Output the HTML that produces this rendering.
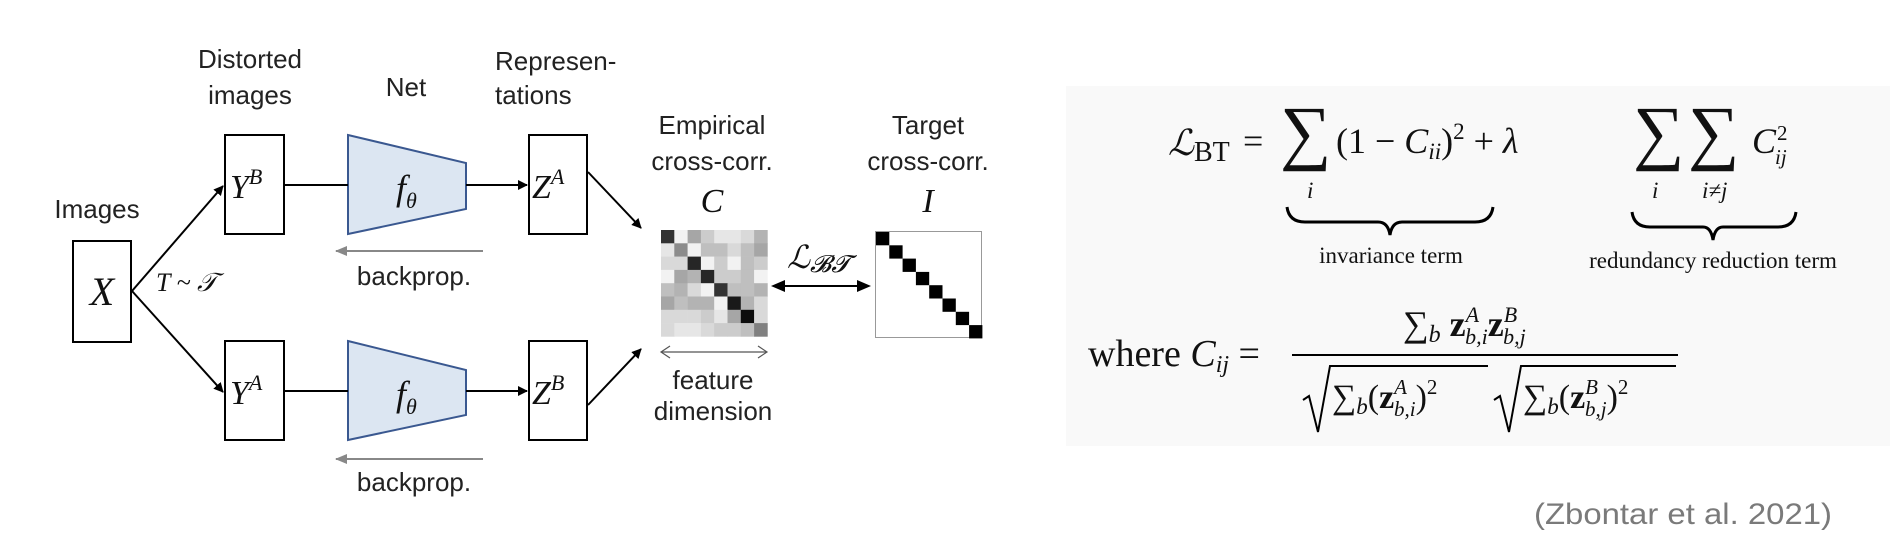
<!DOCTYPE html>
<html><head><meta charset="utf-8"><style>
html,body{margin:0;padding:0;background:#fff;width:1902px;height:546px;overflow:hidden}
svg{display:block}
.s{font-family:"Liberation Sans",sans-serif;font-size:26px;fill:#222}
.m{font-family:"Liberation Serif",serif;font-style:italic;fill:#111}
.r{font-family:"Liberation Serif",serif;fill:#111}
</style></head><body>
<svg width="1902" height="546" viewBox="0 0 1902 546" xmlns="http://www.w3.org/2000/svg">
<defs>
<marker id="a" markerWidth="10" markerHeight="10" refX="9" refY="5" orient="auto" markerUnits="userSpaceOnUse"><path d="M0,0 L10,5 L0,10 z" fill="#000"/></marker>
<marker id="ab" markerWidth="14" markerHeight="12" refX="1" refY="6" orient="auto-start-reverse" markerUnits="userSpaceOnUse"><path d="M0,0 L14,6 L0,12 z" fill="#000"/></marker>
<marker id="g" markerWidth="12" markerHeight="10" refX="1" refY="5" orient="auto" markerUnits="userSpaceOnUse"><path d="M12,0 L0,5 L12,10 z" fill="#888"/></marker>
</defs>
<text class="s" x="97" y="218" text-anchor="middle">Images</text>
<text class="s" x="250" y="68" text-anchor="middle">Distorted</text>
<text class="s" x="250" y="104" text-anchor="middle">images</text>
<text class="s" x="406" y="96" text-anchor="middle">Net</text>
<text class="s" x="495" y="70">Represen-</text>
<text class="s" x="495" y="104">tations</text>
<text class="s" x="712" y="134" text-anchor="middle">Empirical</text>
<text class="s" x="712" y="170" text-anchor="middle">cross-corr.</text>
<text class="s" x="928" y="134" text-anchor="middle">Target</text>
<text class="s" x="928" y="170" text-anchor="middle">cross-corr.</text>
<text class="m" x="712" y="212" text-anchor="middle" font-size="34">C</text>
<text class="m" x="928" y="212" text-anchor="middle" font-size="34">I</text>
<g fill="none" stroke="#000" stroke-width="2">
<rect x="73" y="241" width="58" height="101"/>
<rect x="225" y="135" width="59" height="99"/>
<rect x="225" y="341" width="59" height="99"/>
<rect x="529" y="135" width="58" height="99"/>
<rect x="529" y="341" width="58" height="99"/>
</g>
<text class="m" x="102" y="305" text-anchor="middle" font-size="40">X</text>
<text class="m" x="230" y="198" font-size="34">Y<tspan font-size="22" dy="-14">B</tspan></text>
<text class="m" x="230" y="404" font-size="34">Y<tspan font-size="22" dy="-14">A</tspan></text>
<text class="m" x="532" y="198" font-size="34">Z<tspan font-size="22" dy="-14">A</tspan></text>
<text class="m" x="532" y="404" font-size="34">Z<tspan font-size="22" dy="-14">B</tspan></text>
<path d="M348,135 L466,163 L466,209 L348,234 z" fill="#dce6f2" stroke="#3a5890" stroke-width="2"/>
<path d="M348,341 L466,370 L466,415 L348,440 z" fill="#dce6f2" stroke="#3a5890" stroke-width="2"/>
<text class="m" x="396" y="200" font-size="36">f<tspan font-size="22" dy="8">θ</tspan></text>
<text class="m" x="396" y="406" font-size="36">f<tspan font-size="22" dy="8">θ</tspan></text>
<g stroke="#000" stroke-width="2" fill="none">
<line x1="132" y1="291" x2="223" y2="186" marker-end="url(#a)"/>
<line x1="132" y1="291" x2="223" y2="392" marker-end="url(#a)"/>
<line x1="284" y1="185" x2="348" y2="185"/>
<line x1="284" y1="391" x2="348" y2="391"/>
<line x1="466" y1="185" x2="527" y2="185" marker-end="url(#a)"/>
<line x1="466" y1="391" x2="527" y2="391" marker-end="url(#a)"/>
<line x1="588" y1="172" x2="641" y2="228" marker-end="url(#a)"/>
<line x1="588" y1="405" x2="641" y2="349" marker-end="url(#a)"/>
<line x1="784" y1="286" x2="858" y2="286" marker-start="url(#ab)" marker-end="url(#ab)"/>
</g>
<text class="m" x="156" y="291" font-size="26">T ~ 𝒯</text>
<line x1="336" y1="251" x2="483" y2="251" stroke="#888" stroke-width="2" marker-start="url(#g)"/>
<line x1="336" y1="459" x2="483" y2="459" stroke="#888" stroke-width="2" marker-start="url(#g)"/>
<text class="s" x="414" y="285" text-anchor="middle" font-size="23">backprop.</text>
<text class="s" x="414" y="491" text-anchor="middle" font-size="23">backprop.</text>
<text class="m" x="787" y="268" font-size="32">ℒ<tspan font-size="24" dy="4">𝓑𝓣</tspan></text>
<g id="mc"></g>
<rect x="875.5" y="231.5" width="106" height="106" fill="#fff" stroke="#999" stroke-width="1"/>
<g fill="#000">
<rect x="876" y="232" width="13.3" height="13.3"/><rect x="889.3" y="245.3" width="13.3" height="13.3"/><rect x="902.6" y="258.6" width="13.3" height="13.3"/><rect x="915.9" y="271.9" width="13.3" height="13.3"/><rect x="929.2" y="285.2" width="13.3" height="13.3"/><rect x="942.5" y="298.5" width="13.3" height="13.3"/><rect x="955.8" y="311.8" width="13.3" height="13.3"/><rect x="969.1" y="325.1" width="13.3" height="13.3"/>
</g>
<line x1="662" y1="352" x2="766" y2="352" stroke="#555" stroke-width="1.2"/>
<path d="M670,346 L661,352 L670,358 M758,346 L767,352 L758,358" fill="none" stroke="#555" stroke-width="1.2"/>
<text class="s" x="713" y="389" text-anchor="middle" font-size="23">feature</text>
<text class="s" x="713" y="420" text-anchor="middle" font-size="23">dimension</text>
<rect x="1066" y="86" width="824" height="360" fill="#f9f9f9"/>
<text class="m" x="1168" y="155" font-size="36">ℒ<tspan class="r" font-style="normal" font-size="28" dy="6">BT</tspan></text>
<text class="r" x="1243" y="153" font-size="36">=</text>
<text class="r" x="1280" y="156" font-size="72">∑</text>
<text class="r" x="1336" y="153" font-size="36">(1 − <tspan class="m">C</tspan><tspan class="m" font-size="23" dy="6">ii</tspan><tspan dy="-6">)</tspan><tspan font-size="23" dy="-14">2</tspan><tspan dy="14"> + </tspan><tspan class="m">λ</tspan></text>
<text class="m" x="1307" y="198" font-size="23">i</text>
<text class="r" x="1633" y="156" font-size="72">∑</text>
<text class="r" x="1688" y="156" font-size="72">∑</text>
<text class="m" x="1652" y="198" font-size="23">i</text>
<text class="m" x="1702" y="198" font-size="23">i≠j</text>
<text class="m" x="1752" y="153" font-size="36">C</text>
<text class="r" x="1777" y="140" font-size="21">2</text>
<text class="m" x="1775" y="164" font-size="21">ij</text>
<path d="M1287,207 Q1289,222 1305,222 L1378,222 Q1388,222 1390,235 Q1392,222 1402,222 L1475,222 Q1491,222 1493,207" fill="none" stroke="#000" stroke-width="3"/>
<path d="M1632,212 Q1634,227 1650,227 L1703,227 Q1711,227 1713,240 Q1715,227 1723,227 L1778,227 Q1794,227 1796,212" fill="none" stroke="#000" stroke-width="3"/>
<text class="r" x="1391" y="263" text-anchor="middle" font-size="23">invariance term</text>
<text class="r" x="1713" y="268" text-anchor="middle" font-size="23">redundancy reduction term</text>
<text class="r" x="1088" y="366" font-size="38">where <tspan class="m">C</tspan><tspan class="m" font-size="24" dy="6">ij</tspan><tspan dy="-6"> =</tspan></text>
<text class="r" x="1403" y="336" font-size="36">∑<tspan class="m" font-size="24" dy="6">b</tspan><tspan font-weight="bold" dy="-6"> z</tspan><tspan class="m" font-size="22" dy="-14">A</tspan><tspan class="m" font-size="22" dx="-14" dy="22">b,i</tspan><tspan font-weight="bold" font-size="36" dy="-8">z</tspan><tspan class="m" font-size="22" dy="-14">B</tspan><tspan class="m" font-size="22" dx="-14" dy="22">b,j</tspan></text>
<line x1="1292" y1="355" x2="1678" y2="355" stroke="#000" stroke-width="2"/>
<path d="M1303,400 L1309,396 L1318,432 L1330,366 L1488,366" fill="none" stroke="#000" stroke-width="2"/>
<path d="M1494,400 L1500,396 L1509,432 L1521,366 L1676,366" fill="none" stroke="#000" stroke-width="2"/>
<text class="r" x="1332" y="408" font-size="34">∑<tspan class="m" font-size="23" dy="6">b</tspan><tspan dy="-6">(</tspan><tspan font-weight="bold">z</tspan><tspan class="m" font-size="21" dy="-14">A</tspan><tspan class="m" font-size="21" dx="-13" dy="22">b,i</tspan><tspan dy="-8">)</tspan><tspan font-size="21" dy="-14">2</tspan></text>
<text class="r" x="1523" y="408" font-size="34">∑<tspan class="m" font-size="23" dy="6">b</tspan><tspan dy="-6">(</tspan><tspan font-weight="bold">z</tspan><tspan class="m" font-size="21" dy="-14">B</tspan><tspan class="m" font-size="21" dx="-13" dy="22">b,j</tspan><tspan dy="-8">)</tspan><tspan font-size="21" dy="-14">2</tspan></text>
<text x="1534" y="524" font-family="Liberation Sans,sans-serif" font-size="30" fill="#7a7a7a" textLength="298" lengthAdjust="spacingAndGlyphs">(Zbontar et al. 2021)</text>
</svg>
<script>
var v=[[.8,.05,.35,.2,.1,.1,.15,.3],[.1,.45,.05,.25,.25,.15,.25,.35],[.15,.15,.85,.05,.2,.05,.25,.2],[.05,.35,.3,.85,.2,.2,.25,.05],[.25,.3,.15,.05,.8,.25,.25,.3],[.35,.25,.3,.3,.05,.9,.3,.15],[.15,.15,.15,.2,.1,.35,.95,.15],[.15,.1,.1,.15,.2,.2,.25,.5]];
var g=document.getElementById('mc'),s='';
for(var r=0;r<8;r++)for(var c=0;c<8;c++){var k=Math.round(255*(1-v[r][c]));s+='<rect x="'+(661+c*13.3)+'" y="'+(230+r*13.3)+'" width="13.6" height="13.6" fill="rgb('+k+','+k+','+k+')"/>';}
g.innerHTML=s;
</script>
</body></html>
